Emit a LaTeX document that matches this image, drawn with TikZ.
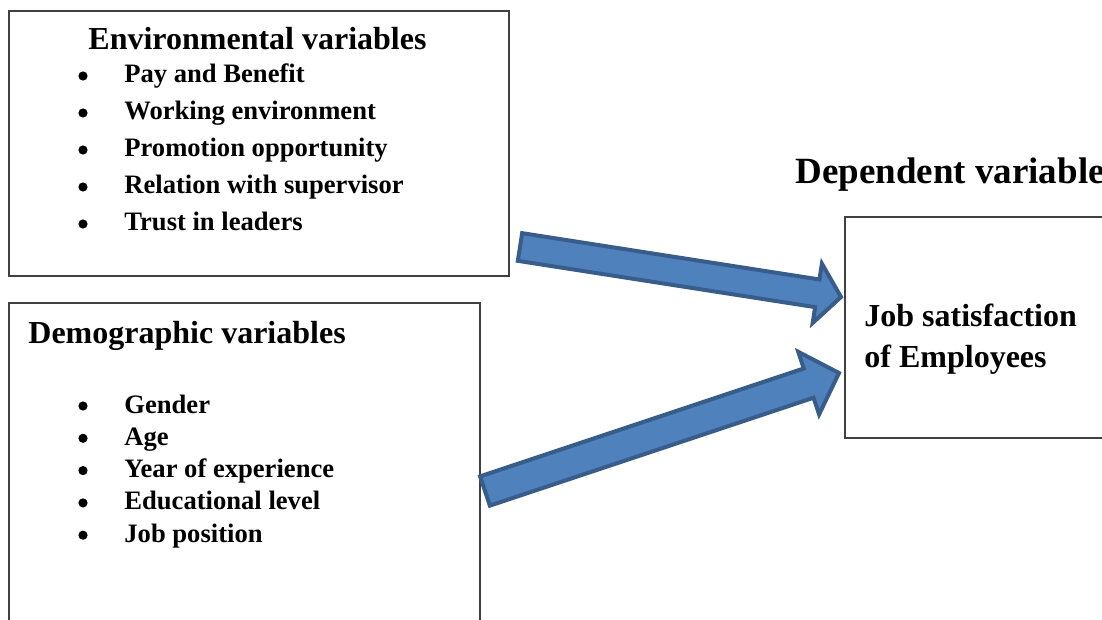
\documentclass[tikz,border=0pt]{standalone}
\usepackage{fontspec}
\setmainfont{Liberation Serif}
\usetikzlibrary{calc,positioning}

\definecolor{arrowfill}{HTML}{4F81BD}
\definecolor{arrowedge}{HTML}{385D8A}
\definecolor{boxline}{HTML}{404040}

\tikzset{
  box/.style={draw=boxline, line width=0.9pt, anchor=north west, inner sep=0pt},
  title/.style={inner sep=0pt, font=\fontsize{16}{18}\selectfont\bfseries},
  bigtitle/.style={inner sep=0pt, font=\fontsize{18.5}{20}\selectfont\bfseries},
  item/.style={inner sep=0pt, anchor=base west, font=\fontsize{13.3}{15}\selectfont\bfseries},
  bul/.style={circle, fill=black, inner sep=0pt, minimum size=4.6pt},
  blockarrow/.style={fill=arrowfill, draw=arrowedge, line width=2pt, line join=miter}
}

% block arrow: tail, tip, shaft half width, head half width, head length
\newcommand{\blockarrow}[5]{%
  \path ($(#2)!#5!(#1)$) coordinate (ba-neck);
  \filldraw[blockarrow] ($(#1)!#3!90:(#2)$) -- ($(ba-neck)!#3!90:(#2)$)
    -- ($(ba-neck)!#4!90:(#2)$) -- (#2) -- ($(ba-neck)!#4!-90:(#2)$)
    -- ($(ba-neck)!#3!-90:(#2)$) -- ($(#1)!#3!-90:(#2)$) -- cycle;
}

\begin{document}
\begin{tikzpicture}[x=0.5pt, y=-0.5pt]
  \useasboundingbox (0,0) rectangle (1102,620);
  \clip (0,0) rectangle (1102,620);

  % boxes
  \node[box, minimum width=250pt, minimum height=132.5pt] (env) at (8,10) {};
  \node[box, minimum width=235.5pt, minimum height=170pt] (demo) at (8,302) {};
  \node[box, minimum width=140pt, minimum height=110.5pt] (dep) at (844,216) {};

  % environmental variables
  \node[title, anchor=base] (envtitle) at (257.5,50) {Environmental variables};
  \foreach \txt [count=\i] in {Pay and Benefit, Working environment,
      Promotion opportunity, Relation with supervisor, Trust in leaders} {
    \node[bul] (envbul-\i) at (83,{76+37*(\i-1)}) {};
    \node[item] (envitem-\i) at (124,{83+37*(\i-1)}) {\txt};
  }

  % demographic variables
  \node[title, anchor=base west] (demotitle) at (28,343) {Demographic variables};
  \foreach \txt [count=\i] in {Gender, Age, Year of experience,
      Educational level, Job position} {
    \node[bul] (demobul-\i) at (83,{406+32.3*(\i-1)}) {};
    \node[item] (demoitem-\i) at (124,{413+32.3*(\i-1)}) {\txt};
  }

  % dependent variable
  \node[bigtitle, anchor=base west] (deptitle) at (795,184) {Dependent variable};
  \node[title, anchor=base west] (jobline1) at (864,326) {Job satisfaction};
  \node[title, anchor=base west] (jobline2) at (864,367) {of Employees};

  % arrows
  \coordinate (envout) at (520,247);
  \coordinate (depin1) at (841,297);
  \coordinate (demoout) at (485,491);
  \coordinate (depin2) at (839,373);
  \blockarrow{envout}{depin1}{7pt}{15pt}{12pt}
  \blockarrow{demoout}{depin2}{7.7pt}{16.5pt}{16pt}
\end{tikzpicture}
\end{document}
